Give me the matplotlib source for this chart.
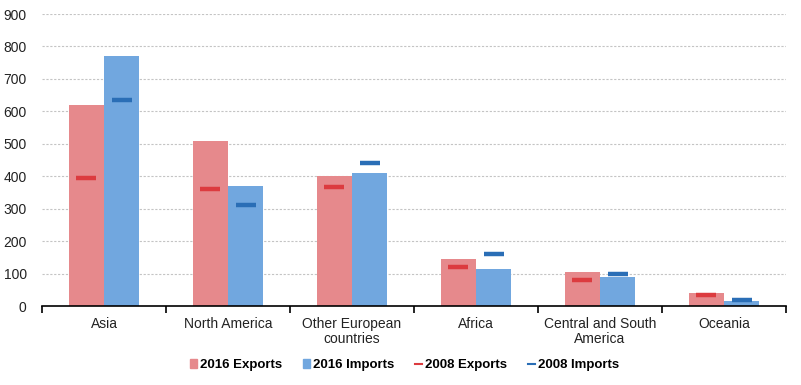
import numpy as np
import matplotlib
matplotlib.use('Agg')
import matplotlib.pyplot as plt
from matplotlib.patches import Patch
from matplotlib.lines import Line2D

plt.rcParams['font.family'] = ['Liberation Sans', 'DejaVu Sans']

# data
regions = ['Asia', 'North America', 'Other European\ncountries', 'Africa',
           'Central and South\nAmerica', 'Oceania']
exp_2016 = [620, 509, 401, 145, 105, 40]
imp_2016 = [770, 370, 410, 114, 89, 15]
exp_2008 = [395, 362, 368, 121, 81, 34]
imp_2008 = [636, 312, 441, 161, 100, 19]

c_exp16 = '#E6898C'
c_imp16 = '#71A7DF'
c_exp08 = '#DC3B3F'
c_imp08 = '#2A6EB6'

fig = plt.figure(figsize=(8.01, 3.85), dpi=100)
ax = fig.add_axes([42/801, 79/385, 744/801, 292/385])

x = np.arange(len(regions))
w = 0.285
ax.bar(x - w/2, exp_2016, w, color=c_exp16, zorder=2)
ax.bar(x + w/2, imp_2016, w, color=c_imp16, zorder=2)
ax.plot(x - w/2, exp_2008, ls='none', marker='_', ms=15, mew=3.2, color=c_exp08, zorder=3)
ax.plot(x + w/2, imp_2008, ls='none', marker='_', ms=15, mew=3.2, color=c_imp08, zorder=3)

ax.set_xlim(-0.5, len(regions) - 0.5)
ax.set_ylim(0, 900)
ax.set_yticks(range(0, 901, 100))
ax.yaxis.grid(True, ls=(0, (2, 1.5)), color='#C4C4C4', lw=0.8, zorder=0)
ax.set_axisbelow(True)

for s in ['top', 'right', 'left']:
    ax.spines[s].set_visible(False)
ax.spines['bottom'].set_linewidth(1.2)

# category labels centred, tick marks at the boundaries
ax.set_xticks(x)
ax.set_xticklabels(regions, fontsize=10, color='#222222', linespacing=1.05)
ax.tick_params(axis='x', length=0, pad=8)
ax.set_xticks(np.arange(len(regions) + 1) - 0.5, minor=True)
ax.tick_params(axis='x', which='minor', length=5, width=1.2, direction='out')
ax.tick_params(axis='y', length=0, labelsize=10, labelcolor='#222222', pad=11)

handles = [Patch(color=c_exp16), Patch(color=c_imp16),
           Line2D([], [], color=c_exp08, lw=1.5), Line2D([], [], color=c_imp08, lw=1.5)]
labels = ['2016 Exports', '2016 Imports', '2008 Exports', '2008 Imports']
leg = fig.legend(handles, labels, loc='center', bbox_to_anchor=(0.505, 20/385), ncol=4,
                 frameon=False, handlelength=0.55, handleheight=0.6, handletextpad=0.2,
                 columnspacing=1.6, prop={'weight': 'bold', 'size': 9.5})

fig.savefig('out.png', dpi=100)
